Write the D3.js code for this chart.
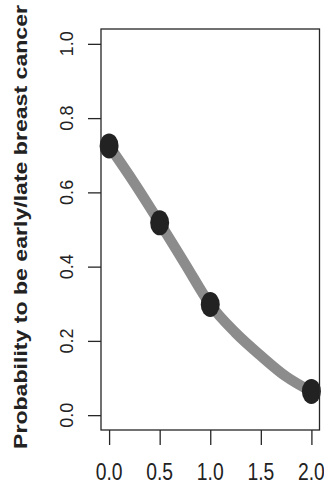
<!DOCTYPE html>
<html>
<head>
<meta charset="utf-8">
<script src="https://cdn.jsdelivr.net/npm/d3@7"></script>
<style>
  html, body { margin: 0; padding: 0; background: #fff; }
  svg { display: block; }
</style>
</head>
<body>
<svg id="chart" width="324" height="485"></svg>
<script>
// Observed probabilities at each dose level
const doses = [0, 0.5, 1.0, 2.0];
const probs = [0.725, 0.518, 0.298, 0.064];

// Fitted curve sampled along the dose axis
const curveX = [0, 0.25, 0.5, 0.75, 1.0, 1.25, 1.5, 1.75, 2.0];
const curveY = [0.725, 0.625, 0.518, 0.408, 0.298, 0.222, 0.160, 0.104, 0.064];

// Axis ticks
const xTicks = [0, 0.5, 1.0, 1.5, 2.0];
const yTicks = [0, 0.2, 0.4, 0.6, 0.8, 1.0];

const yTitle = "Probability to be early/late breast cancer";

const svg = d3.select("#chart");
const box = { left: 101, right: 319.5, top: 29, bottom: 430 };

const x = d3.scaleLinear().domain([-0.08, 2.08]).range([box.left, box.right]);
const y = d3.scaleLinear().domain([-0.04, 1.04]).range([box.bottom, box.top]);

const ink = "#262626";

// Fitted curve
const line = d3.line()
  .x((d, i) => x(curveX[i]))
  .y(d => y(d))
  .curve(d3.curveMonotoneX);

svg.append("path")
  .attr("d", line(curveY))
  .attr("fill", "none")
  .attr("stroke", "#8c8c8c")
  .attr("stroke-width", 10.5)
  .attr("stroke-linecap", "butt");

// Observed points
svg.selectAll("ellipse.pt")
  .data(doses)
  .join("ellipse")
  .attr("class", "pt")
  .attr("cx", d => x(d))
  .attr("cy", (d, i) => y(probs[i]))
  .attr("rx", 9.5)
  .attr("ry", 12.5)
  .attr("fill", "#222");

// Plot frame
svg.append("rect")
  .attr("x", box.left)
  .attr("y", box.top)
  .attr("width", box.right - box.left)
  .attr("height", box.bottom - box.top)
  .attr("fill", "none")
  .attr("stroke", ink)
  .attr("stroke-width", 1.3);

// Bottom axis
const xAxis = svg.append("g")
  .attr("transform", `translate(0,${box.bottom})`)
  .call(d3.axisBottom(x).tickValues(xTicks).tickSize(15).tickFormat(""));
xAxis.select(".domain").remove();
xAxis.selectAll("line").attr("stroke", ink).attr("stroke-width", 1.3);

svg.selectAll("text.xl")
  .data(xTicks)
  .join("text")
  .attr("class", "xl")
  .attr("transform", d => `translate(${x(d)},480) scale(0.84,1)`)
  .attr("text-anchor", "middle")
  .attr("font-family", "'Liberation Sans', Arial, sans-serif")
  .attr("font-size", 23)
  .attr("fill", "#222")
  .text(d => d3.format(".1f")(d));

// Left axis
const yAxis = svg.append("g")
  .attr("transform", `translate(${box.left},0)`)
  .call(d3.axisLeft(y).tickValues(yTicks).tickSize(13).tickFormat(""));
yAxis.select(".domain").remove();
yAxis.selectAll("line").attr("stroke", ink).attr("stroke-width", 1.3);

svg.selectAll("text.yl")
  .data(yTicks)
  .join("text")
  .attr("class", "yl")
  .attr("transform", d => `translate(73,${y(d)}) rotate(-90)`)
  .attr("text-anchor", "middle")
  .attr("font-family", "'Liberation Sans', Arial, sans-serif")
  .attr("font-size", 18)
  .attr("fill", "#222")
  .text(d => d3.format(".1f")(d));

// Y-axis title
svg.append("text")
  .attr("transform", "translate(27,227) rotate(-90)")
  .attr("text-anchor", "middle")
  .attr("font-family", "'Liberation Sans', Arial, sans-serif")
  .attr("font-weight", "bold")
  .attr("font-size", 19)
  .attr("textLength", 444)
  .attr("lengthAdjust", "spacingAndGlyphs")
  .attr("fill", "#222")
  .text(yTitle);
</script>
</body>
</html>
